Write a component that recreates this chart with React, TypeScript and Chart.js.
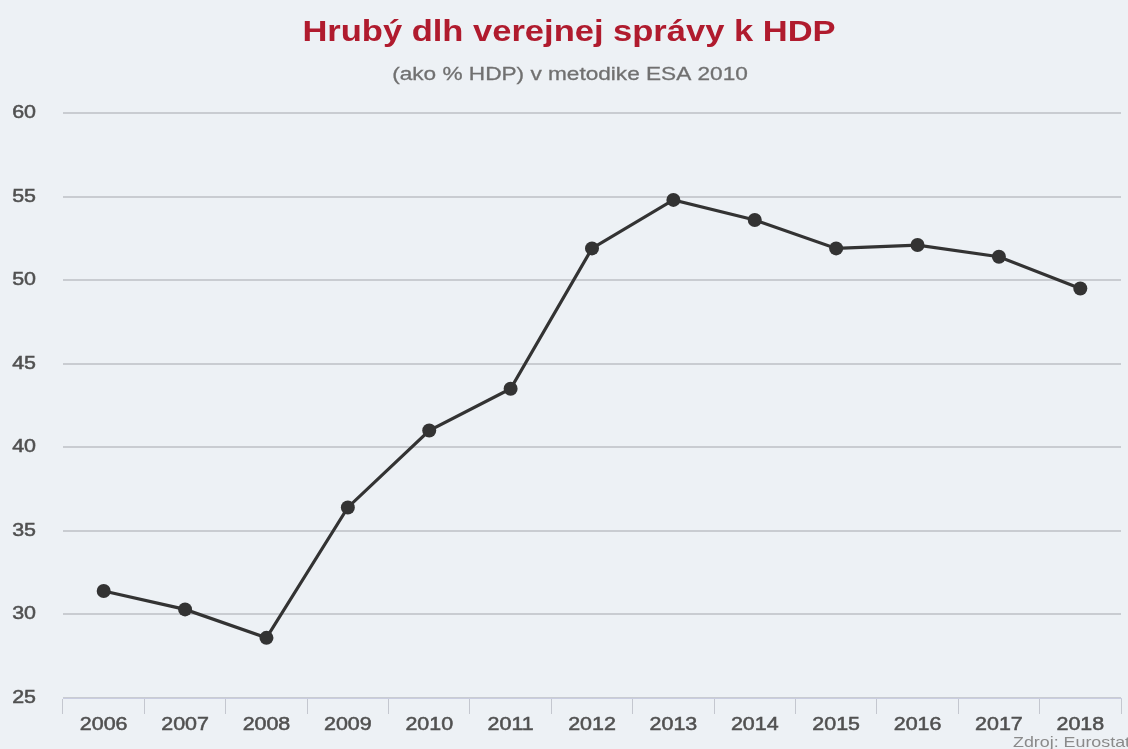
import React, { useEffect, useRef } from "react";
import { Chart, registerables } from "chart.js";

Chart.register(...registerables);

const years = ["2006", "2007", "2008", "2009", "2010", "2011", "2012", "2013", "2014", "2015", "2016", "2017", "2018"];
const debt = [31.4, 30.3, 28.6, 36.4, 41.0, 43.5, 51.9, 54.8, 53.6, 51.9, 52.1, 51.4, 49.5];
const yTicks = [25, 30, 35, 40, 45, 50, 55, 60];
const titleText = "Hrubý dlh verejnej správy k HDP";
const subtitleText = "(ako % HDP) v metodike ESA 2010";
const sourceText = "Zdroj: Eurostat";

const FONT = "'Liberation Sans', Arial, sans-serif";
const STRETCH = 1.19;

function wideText(ctx: any, text: string, x: number, y: number, align: "left" | "center" | "right", stroke = 0) {
  ctx.save();
  ctx.translate(x, y);
  ctx.scale(STRETCH, 1);
  ctx.textAlign = align;
  if (stroke > 0) {
    ctx.lineWidth = stroke;
    ctx.strokeStyle = ctx.fillStyle;
    ctx.strokeText(text, 0, 0);
  }
  ctx.fillText(text, 0, 0);
  ctx.restore();
}

const textPlugin = {
  id: "texts",
  afterDraw(chart: any) {
    const ctx = chart.ctx;
    ctx.save();
    ctx.textBaseline = "middle";
    ctx.fillStyle = "#b01b2e";
    ctx.font = `bold 29px ${FONT}`;
    wideText(ctx, titleText, 569, 33, "center");
    ctx.fillStyle = "#707070";
    ctx.font = `19px ${FONT}`;
    wideText(ctx, subtitleText, 570, 75, "center", 0.3);

    // axis labels placed with the library's scales
    ctx.fillStyle = "#505050";
    ctx.font = `18px ${FONT}`;
    const xs = chart.scales.x;
    years.forEach((lab, i) => {
      wideText(ctx, lab, xs.getPixelForValue(i), 725, "center", 0.5);
    });
    const ys = chart.scales.y;
    yTicks.forEach((v) => {
      wideText(ctx, String(v), 36, ys.getPixelForValue(v), "right", 0.5);
    });

    ctx.fillStyle = "#8a8a8a";
    ctx.font = `15px ${FONT}`;
    ctx.textBaseline = "alphabetic";
    wideText(ctx, sourceText, 1013, 747, "left");
    ctx.restore();
  },
};

const bgPlugin = {
  id: "bg",
  beforeDraw(chart: any) {
    const ctx = chart.ctx;
    ctx.save();
    ctx.fillStyle = "#edf1f5";
    ctx.fillRect(0, 0, chart.width, chart.height);
    ctx.restore();
  },
};

export default function App() {
  const ref = useRef<HTMLCanvasElement>(null);
  useEffect(() => {
    document.body.style.margin = "0";
    const chart = new Chart(ref.current!, {
      type: "line",
      data: {
        labels: years,
        datasets: [
          {
            data: debt,
            borderColor: "#333333",
            backgroundColor: "#333333",
            borderWidth: 3.2,
            pointRadius: 7,
            pointBackgroundColor: "#333333",
            pointBorderWidth: 0,
            tension: 0,
          },
        ],
      },
      options: {
        animation: false,
        responsive: false,
        layout: { padding: { top: 113, right: 2, left: 0, bottom: 0 } },
        plugins: { legend: { display: false }, tooltip: { enabled: false } },
        scales: {
          x: {
            offset: true,
            grid: {
              offset: true,
              drawOnChartArea: false,
              drawTicks: true,
              tickLength: 16,
              color: "#c4c7cf",
              lineWidth: 1,
            },
            border: { color: "#c9cce0", width: 1 },
            ticks: { color: "rgba(0,0,0,0)", font: { family: FONT, size: 18 }, padding: 4 },
            afterFit(scale: any) {
              scale.height = 51;
            },
          },
          y: {
            min: 25,
            max: 60,
            afterBuildTicks(scale: any) {
              scale.ticks = yTicks.map((v) => ({ value: v }));
            },
            grid: { drawTicks: false, color: "#c9ccd1", lineWidth: 2 },
            border: { display: false },
            ticks: { color: "rgba(0,0,0,0)", font: { family: FONT, size: 18 }, padding: 27 },
            afterFit(scale: any) {
              scale.width = 63;
            },
          },
        },
      },
      plugins: [bgPlugin, textPlugin],
    });
    return () => chart.destroy();
  }, []);
  return (
    <div style={{ width: 1128, height: 749, background: "#edf1f5" }}>
      <canvas ref={ref} width={1128} height={749} style={{ display: "block" }} />
    </div>
  );
}
